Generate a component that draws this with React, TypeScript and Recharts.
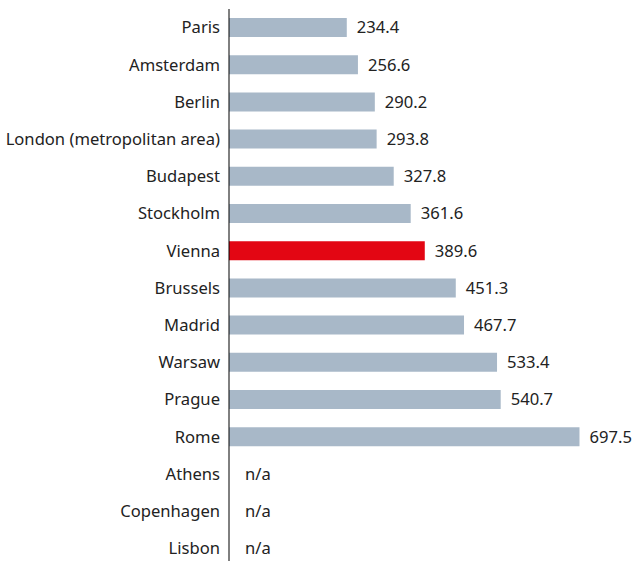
import { BarChart, Bar, XAxis, YAxis, Cell, LabelList } from "recharts";

const cities = [
  "Paris",
  "Amsterdam",
  "Berlin",
  "London (metropolitan area)",
  "Budapest",
  "Stockholm",
  "Vienna",
  "Brussels",
  "Madrid",
  "Warsaw",
  "Prague",
  "Rome",
  "Athens",
  "Copenhagen",
  "Lisbon",
];

const values: (number | null)[] = [
  234.4, 256.6, 290.2, 293.8, 327.8, 361.6, 389.6, 451.3, 467.7, 533.4, 540.7,
  697.5, null, null, null,
];

const highlight = "Vienna";

const data = cities.map((city, i) => ({ city, value: values[i] }));

const FONT = "'Noto Sans', sans-serif";
const TEXT = "#222222";
const SIZE = 16.6;

const CityTick = (props: any) => {
  const { x, y, payload } = props;
  const missing = values[payload.index] == null;
  return (
    <g>
      <text
        x={x}
        y={y}
        dy={5.8}
        textAnchor="end"
        fill={TEXT}
        fontSize={SIZE}
        fontFamily={FONT}
      >
        {payload.value}
      </text>
      {missing && (
        <text
          x={x + 25}
          y={y}
          dy={5.8}
          textAnchor="start"
          fill={TEXT}
          fontSize={SIZE}
          fontFamily={FONT}
        >
          n/a
        </text>
      )}
    </g>
  );
};

const ValueLabel = (props: any) => {
  const { x, y, width, height, value } = props;
  if (value == null) return null;
  return (
    <text
      x={x + width + 10}
      y={y + height / 2}
      dy={5.8}
      fill={TEXT}
      fontSize={SIZE}
      fontFamily={FONT}
    >
      {value.toFixed(1)}
    </text>
  );
};

export default function App() {
  return (
    <div style={{ position: "absolute", left: 0, top: 0, width: 642, height: 561, overflow: "hidden", background: "#fff" }}>
      <BarChart
        width={642}
        height={567}
        data={data}
        layout="vertical"
        margin={{ top: 9, right: 11, left: 0, bottom: 0 }}
        barSize={19}
      >
        <XAxis type="number" domain={[0, 800]} hide />
        <YAxis
          type="category"
          dataKey="city"
          width={229}
          tickLine={false}
          tickMargin={3}
          axisLine={{ stroke: "#000", strokeWidth: 1 }}
          tick={<CityTick />}
          interval={0}
        />
        <Bar dataKey="value" fill="#a8b8c8" isAnimationActive={false}>
          {data.map((d) => (
            <Cell key={d.city} fill={d.city === highlight ? "#e30613" : "#a8b8c8"} />
          ))}
          <LabelList dataKey="value" content={<ValueLabel />} />
        </Bar>
      </BarChart>
    </div>
  );
}
